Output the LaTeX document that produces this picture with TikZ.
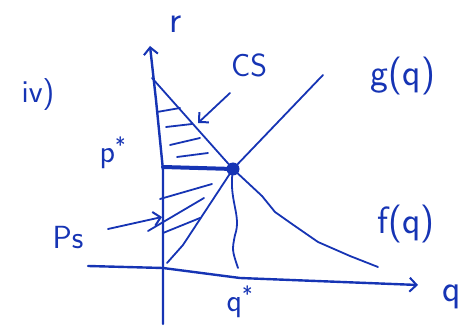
\documentclass[tikz,border=0pt]{standalone}
\usepackage{tikz}
\usetikzlibrary{arrows.meta, positioning}
\definecolor{Ink}{RGB}{22, 52, 180}
\begin{document}
\begin{tikzpicture}[x=1pt, y=-1pt,
    every node/.style={font=\fontsize{32}{32}\selectfont\sffamily, text=Ink, inner sep=0pt},
    big/.style={font=\fontsize{38}{38}\selectfont\sffamily},
    ink/.style={draw=Ink, line width=1.8pt, line cap=round, line join=round},
    axis/.style={ink, line width=2.4pt},
    barb/.style={-{Straight Barb[length=7pt, width=14pt, line width=2pt]}}
]
\useasboundingbox (0,0) rectangle (472,334);
% Axe
\coordinate (ytop) at (150,46);
\coordinate (ybot) at (163,324);
\coordinate (xleft) at (88,266);
\coordinate (xright) at (418,285);
\draw[axis, barb] (ybot) -- (163,170) -- (156,100) -- (ytop);
\draw[axis, barb] (xleft) -- (163,268) -- (240,278) -- (xright);
% Echilibru
\coordinate (E) at (233,169);
\coordinate (P) at (163,167);
\coordinate (D0) at (152,78);
\coordinate (D1) at (378,267);
\coordinate (S0) at (167,263);
\coordinate (S1) at (323,75);
\coordinate (Q) at (238,268);
\draw[ink] (D0) -- (E) -- (262,196) -- (275,212) -- (292,224) -- (318,242) -- (350,256) -- (D1);
\draw[ink] (S0) -- (183,245) -- (E) -- (S1);
\draw[ink] (E) .. controls (228,200) and (242,215) .. (235,235) .. controls (232,250) .. (Q);
\draw[ink, line width=4pt] (P) -- (E);
\fill[Ink] (E) circle (6.5pt);
% Hasuri
\foreach \a/\b/\c/\d in {157/112/180/108, 166/127/192/124, 170/145/200/138, 177/157/208/153} {
    \draw[ink] (\a,\b) -- (\c,\d);
}
\foreach \a/\b/\c/\d in {160/199/212/184, 148/231/204/198, 163/233/200/218} {
    \draw[ink] (\a,\b) -- (\c,\d);
}
% Etichete
\node (iv) at (38,95) {iv)};
\node[big] (rlab) at (176,24) {r};
\node (cs) at (249,65) {CS};
\node (pstar) at (113,153) {p\textsuperscript{*}};
\node (ps) at (68,238) {Ps};
\node[big] (glab) at (403,76) {g(q)};
\node[big] (flab) at (406,224) {f(q)};
\node[big] (qlab) at (452,297) {q};
\node (qstar) at (240,302) {q\textsuperscript{*}};
\coordinate (csA) at (230,93);
\coordinate (csB) at (198,123);
\coordinate (psA) at (108,229);
\coordinate (psB) at (162,217);
\draw[ink, barb] (csA) -- (csB);
\draw[ink, barb] (psA) -- (psB);
\end{tikzpicture}
\end{document}
